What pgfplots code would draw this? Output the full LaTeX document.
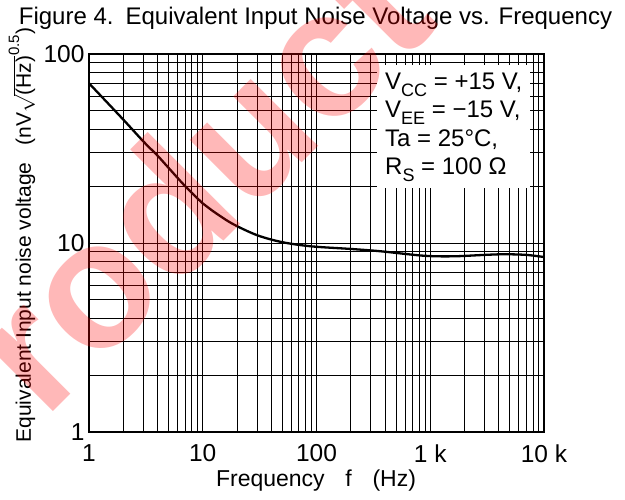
\documentclass[border=0pt]{standalone}
\usepackage{pgfplots}
\pgfplotsset{compat=1.18}
\usepackage{fontspec}
\setmainfont{Liberation Sans}
\newcommand{\fs}[1]{\fontsize{#1}{#1}\selectfont}
\begin{document}
\begin{tikzpicture}
\begin{axis}[
  at={(0,0)}, anchor=south west,
  scale only axis, width=455pt, height=378pt,
  xmode=log, ymode=log,
  xmin=1, xmax=10000, ymin=1, ymax=100,
  xtick={1,10,100,1000,10000},
  xticklabels={1,10,100,1 k,10 k},
  ytick={1,10,100},
  yticklabels={1,10,100},
  minor xtick={2,3,4,5,6,7,8,9,20,30,40,50,60,70,80,90,200,300,400,500,600,700,800,900,2000,3000,4000,5000,6000,7000,8000,9000},
  minor ytick={2,3,4,5,6,7,8,9,20,30,40,50,60,70,80,90},
  grid=both,
  major grid style={black, line width=0.8pt},
  minor grid style={black, line width=0.8pt},
  axis line style={black, line width=1.2pt},
  major tick length=0pt, minor tick length=0pt,
  tick label style={font=\fs{24.5}},
  /pgf/number format/assume math mode=true,
  xticklabel style={yshift=-9pt},
  yticklabel style={xshift=-1pt},
  clip=true,
]
\addplot[black, line width=2.3pt, smooth, tension=0.5] coordinates {
  (1,70) (2,45) (3,34.5) (4,29) (5,25) (7,20) (10,16.2) (12,14.9) (18,12.7)
  (30,11.0) (50,10.1) (90,9.6) (200,9.3) (360,9.05) (800,8.6) (1200,8.5)
  (1800,8.52) (3000,8.65) (4500,8.72) (7000,8.65) (10000,8.43)
};
\end{axis}
% legend box
\fill[white] (288pt,244pt) rectangle (441pt,367pt);
\node[anchor=base west, inner sep=0pt] at (296pt,342pt) {\fs{24}V\raisebox{-0.28em}{\fs{18}CC} = +15 V,};
\node[anchor=base west, inner sep=0pt] at (296pt,314pt) {\fs{24}V\raisebox{-0.28em}{\fs{18}EE} = −15 V,};
\node[anchor=base west, inner sep=0pt] at (296pt,285pt) {\fs{24}Ta = 25°C,};
\node[anchor=base west, inner sep=0pt] at (296pt,257pt) {\fs{24}R\raisebox{-0.28em}{\fs{18}S} = 100 Ω};
% title
\node[inner sep=0pt] at (226.5pt,414pt) {\fs{24}Figure 4.\hspace{0.5em}Equivalent Input Noise Voltage vs. Frequency};
% x label
\node[inner sep=0pt] at (227pt,-49pt) {\fs{23}Frequency\hspace{0.9em}f\hspace{0.9em}(Hz)};
% y label
\node[inner sep=0pt, rotate=90] at (-67pt,197pt) {\fs{21}Equivalent Input noise voltage\hspace{0.8em}(nV$\sqrt{\mbox{\fs{21}(Hz)}}^{\mbox{\fs{15}0.5}}$)};
% watermark
\node[inner sep=0pt, rotate=45, text=red, opacity=0.28] at (108pt,255pt) {\fs{180}\bfseries roduct};
\pgfresetboundingbox
\path (-89pt,-68pt) rectangle (536pt,432pt);
\end{tikzpicture}
\end{document}
